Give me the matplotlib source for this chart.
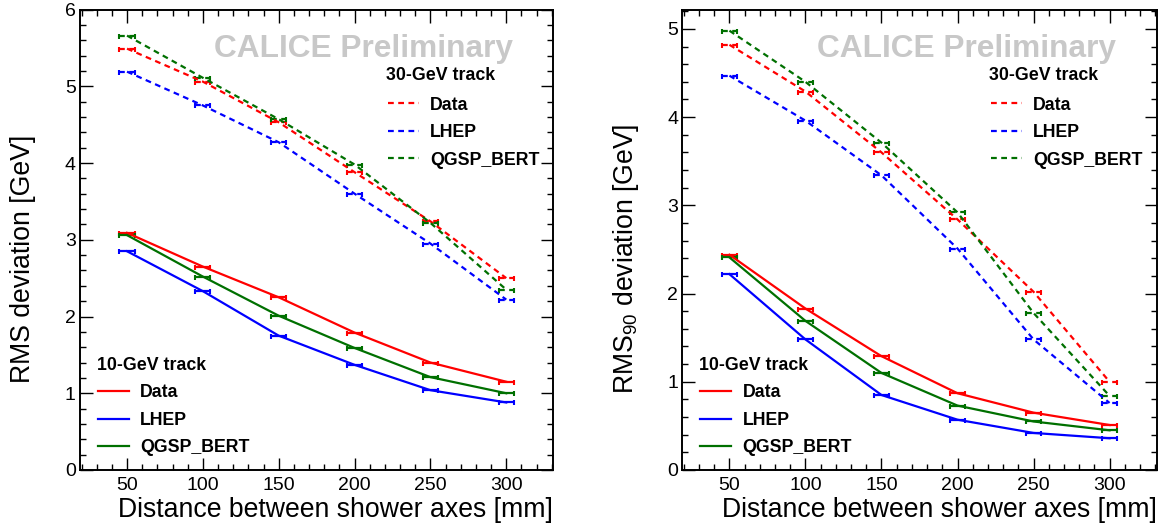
import matplotlib
matplotlib.use("Agg")
import matplotlib.pyplot as plt
from matplotlib.ticker import MultipleLocator

plt.rcParams['font.family'] = ['Liberation Sans', 'DejaVu Sans']
plt.rcParams['mathtext.fontset'] = 'custom'
plt.rcParams['mathtext.rm'] = 'Liberation Sans'

# ---------------- data ----------------
distance_mm = [50, 100, 150, 200, 250, 300]
distance_err = [5, 5, 5, 5, 5, 5]
models = ["Data", "LHEP", "QGSP_BERT"]
model_colors = ["#ff0000", "#0000ff", "#007000"]

# RMS deviation [GeV]
rms_10_data = [3.09, 2.65, 2.25, 1.79, 1.40, 1.15]
rms_10_lhep = [2.85, 2.33, 1.75, 1.37, 1.04, 0.88]
rms_10_qgsp = [3.06, 2.52, 2.01, 1.59, 1.21, 1.00]
rms_30_data = [5.49, 5.06, 4.53, 3.88, 3.24, 2.50]
rms_30_lhep = [5.19, 4.75, 4.27, 3.60, 2.95, 2.22]
rms_30_qgsp = [5.66, 5.11, 4.57, 3.98, 3.22, 2.35]

# RMS90 deviation [GeV]
r90_10_data = [2.44, 1.83, 1.29, 0.87, 0.65, 0.51]
r90_10_lhep = [2.22, 1.48, 0.85, 0.57, 0.42, 0.36]
r90_10_qgsp = [2.41, 1.69, 1.10, 0.73, 0.55, 0.45]
r90_30_data = [4.82, 4.29, 3.60, 2.84, 2.02, 1.00]
r90_30_lhep = [4.47, 3.96, 3.34, 2.51, 1.48, 0.76]
r90_30_qgsp = [4.98, 4.40, 3.71, 2.92, 1.78, 0.84]

header_10 = "10-GeV track"
header_30 = "30-GeV track"
watermark = "CALICE Preliminary"
xlabel = "Distance between shower axes [mm]"
ylabels = ["RMS deviation [GeV]", r"RMS$_{\mathregular{90}}$ deviation [GeV]"]

W, H = 1168, 532
fig = plt.figure(figsize=(W / 100, H / 100), dpi=100)
ax1 = fig.add_axes([80 / W, 62 / H, 473.3 / W, 460.5 / H])
ax2 = fig.add_axes([682.3 / W, 62 / H, 474.4 / W, 460.5 / H])

DASH = (0, (2.6, 2.0))
TICK_FS = 14
LEG_FS = 12.8


def draw_series(ax, y, color, ls):
    eb = ax.errorbar(distance_mm, y, xerr=distance_err, color=color, lw=1.6,
                     ls=ls, elinewidth=1.6, capsize=1.8, capthick=1.5)
    for bl in eb[2]:
        bl.set_linestyle(ls)
    return eb[0]


def panel(ax, s10, s30, ylim, ylabel, ylab_x):
    h10 = [draw_series(ax, s, c, '-') for s, c in zip(s10, model_colors)]
    h30 = [draw_series(ax, s, c, DASH) for s, c in zip(s30, model_colors)]

    ax.set_xlim(19, 331)
    ax.set_ylim(*ylim)
    ax.xaxis.set_major_locator(MultipleLocator(50))
    ax.xaxis.set_minor_locator(MultipleLocator(10))
    ax.yaxis.set_major_locator(MultipleLocator(1))
    ax.yaxis.set_minor_locator(MultipleLocator(0.2))
    ax.tick_params(which='both', direction='in', top=True, right=True,
                   width=1.0, colors='black')
    ax.tick_params(which='major', length=9, labelsize=TICK_FS)
    ax.tick_params(which='minor', length=4.3)
    ax.tick_params(axis='x', which='major', pad=5)
    ax.tick_params(axis='y', which='major', pad=3)
    for sp in ax.spines.values():
        sp.set_linewidth(1.4)

    ax.set_xlabel(xlabel, fontsize=19.2, ha='right')
    ax.xaxis.set_label_coords(1.0, -0.058)
    ax.set_ylabel(ylabel, fontsize=19.2)
    ax.yaxis.set_label_coords(ylab_x, 0.458)

    ax.text(0.915, 0.897, watermark, transform=ax.transAxes, ha='right',
            va='baseline', fontsize=22.8, fontweight='bold', color='#c8c8c8')

    # 30-GeV legend (upper right)
    ax.text(0.6465, 0.856, header_30, transform=ax.transAxes, ha='left',
            va='center', fontsize=LEG_FS, fontweight='bold')
    leg30 = ax.legend(h30, models, loc='upper left', bbox_to_anchor=(0.651, 0.811),
                      frameon=False, borderpad=0, borderaxespad=0,
                      handlelength=1.75, handletextpad=0.62, labelspacing=0.59,
                      prop={'size': LEG_FS, 'weight': 'bold'})
    ax.add_artist(leg30)

    # 10-GeV legend (lower left)
    ax.text(0.035, 0.228, header_10, transform=ax.transAxes, ha='left',
            va='center', fontsize=LEG_FS, fontweight='bold')
    ax.legend(h10, models, loc='upper left', bbox_to_anchor=(0.038, 0.186),
              frameon=False, borderpad=0, borderaxespad=0,
              handlelength=1.75, handletextpad=0.62, labelspacing=0.59,
              prop={'size': LEG_FS, 'weight': 'bold'})


panel(ax1, [rms_10_data, rms_10_lhep, rms_10_qgsp],
      [rms_30_data, rms_30_lhep, rms_30_qgsp], (0, 6), ylabels[0], -0.093)
panel(ax2, [r90_10_data, r90_10_lhep, r90_10_qgsp],
      [r90_30_data, r90_30_lhep, r90_30_qgsp], (0, 5.22), ylabels[1], -0.088)

fig.savefig("out.png", dpi=100)
